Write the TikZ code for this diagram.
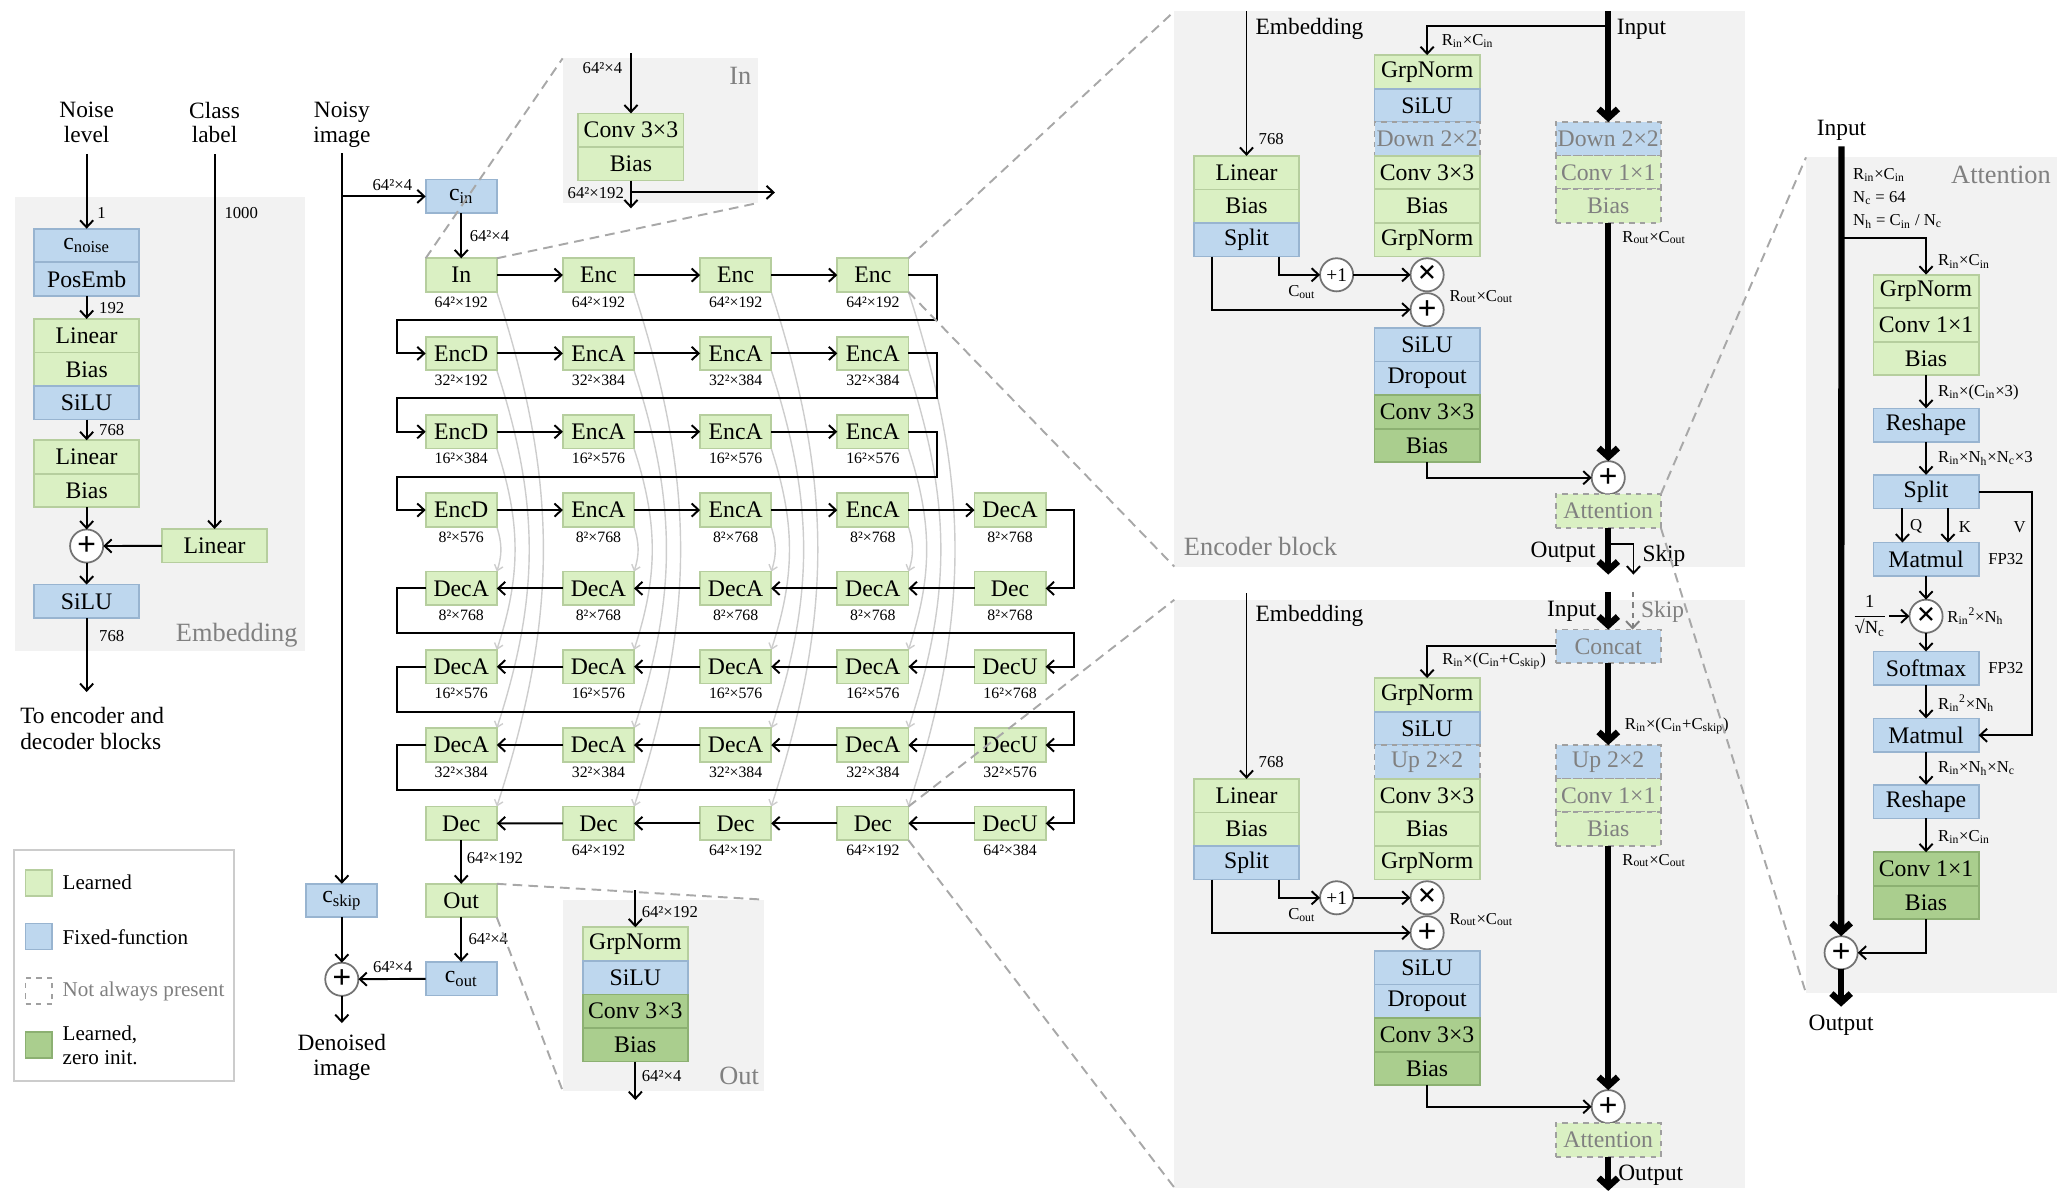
\documentclass[tikz,border=0pt]{standalone}
\usepackage{amsmath}
\usepackage{fontspec}
\setmainfont{Liberation Serif}
\usetikzlibrary{positioning,arrows.meta}

\definecolor{learned}{RGB}{218,240,195}
\definecolor{learnedline}{RGB}{182,206,158}
\definecolor{fixed}{RGB}{190,215,238}
\definecolor{fixedline}{RGB}{152,180,208}
\definecolor{zeroinit}{RGB}{170,206,142}
\definecolor{zeroline}{RGB}{140,176,114}
\definecolor{panel}{RGB}{242,242,242}
\definecolor{titlegray}{RGB}{128,128,128}
\definecolor{arcgray}{RGB}{205,205,205}
\definecolor{zoomgray}{RGB}{168,168,168}

\pgfdeclarelayer{back}
\pgfsetlayers{back,main}

\newcommand{\tsub}[1]{\textsubscript{#1}}
\newcommand{\boxfont}{\fontsize{13.5}{15}\selectfont}
\newcommand{\lblfont}{\fontsize{13.3}{14.1}\selectfont}
\newcommand{\dimfont}{\fontsize{9.5}{13.2}\selectfont}
\newcommand{\plussign}{\textbf{+}}
\newcommand{\timessign}{\textbf{×}}

\tikzset{
  blk/.style={draw, line width=1pt, minimum width=2.104cm, minimum height=0.671cm,
    inner sep=0pt, outer sep=0pt, font=\boxfont},
  lrn/.style={blk, fill=learned, draw=learnedline},
  fix/.style={blk, fill=fixed, draw=fixedline},
  zro/.style={blk, fill=zeroinit, draw=zeroline},
  opt/.style={dashed, draw=titlegray!75, text=titlegray},
  cell/.style={lrn, minimum width=1.422cm},
  swatch/.style={minimum width=0.534cm, minimum height=0.52cm},
  opnode/.style={circle, draw=black!55, fill=white, line width=1pt, minimum size=0.663cm,
    inner sep=0pt, outer sep=0pt, font=\fontsize{19}{19}\selectfont},
  dimlbl/.style={font=\dimfont, inner sep=1pt},
  cellsize/.style={font=\fontsize{9}{10}\selectfont, inner sep=0pt},
  txt/.style={font=\lblfont, align=center, inner sep=0pt},
  legtxt/.style={font=\fontsize{12}{13.9}\selectfont, align=left, anchor=west, inner sep=0pt},
  paneltitle/.style={font=\fontsize{15}{15}\selectfont, text=titlegray, inner sep=0pt},
  wire/.style={line width=1.1pt},
  arr/.style={wire, -{Straight Barb[length=4pt,width=7.5pt]}},
  fat arr/.style={line width=3.6pt, -{Straight Barb[length=5pt,width=11pt]}},
  skiparc/.style={draw=arcgray, line width=0.8pt, -{Straight Barb[length=3pt,width=5pt]}},
  zoomline/.style={draw=zoomgray, line width=1.1pt, dash pattern=on 5.5pt off 3.5pt},
}

\begin{document}
\begin{tikzpicture}[x=0.026538cm,y=-0.026538cm]
\useasboundingbox (0,0) rectangle (1560,902.8);

% grey panels
\coordinate (embNW) at (11.3,148.2);  \coordinate (embSE) at (230,490.6);
\coordinate (inNW) at (424,44);       \coordinate (inSE) at (571,153);
\coordinate (outNW) at (424,678);     \coordinate (outSE) at (576,822);
\coordinate (encNW) at (885,8.5);     \coordinate (encSE) at (1315,427);
\coordinate (decNW) at (885,452);     \coordinate (decSE) at (1315,895);
\coordinate (attNW) at (1361,118.6);  \coordinate (attSE) at (1550.4,748.4);
\foreach \p in {emb,in,out,enc,dec,att}
  \fill[panel] (\p NW) rectangle (\p SE);

% embedding
\node[txt] (noise) at (65.3,92.4) {Noise\\level};
\node[txt] (class) at (161.7,92.4) {Class\\label};
\node[fix] (cnoise) at (65.3,185) {c\tsub{noise}};
\node[fix,below=0pt of cnoise] (posemb) {PosEmb};
\node[lrn] (lin1) at (65.3,253) {Linear};
\node[lrn,below=0pt of lin1] (bias1) {Bias};
\node[fix,below=0pt of bias1] (silu1) {SiLU};
\node[lrn] (lin2) at (65.3,344.4) {Linear};
\node[lrn,below=0pt of lin2] (bias2) {Bias};
\node[opnode] (add1) at (65.3,411.5) {\plussign};
\node[lrn] (lincls) at (161.7,411.3) {Linear};
\node[fix] (silu2) at (65.3,453.2) {SiLU};
\coordinate (embout) at (65.3,521.5);
\node[txt,align=left,anchor=west,font=\fontsize{13.3}{14.7}\selectfont] (toblocks) at (15,549.3) {To encoder and\\decoder blocks};
\node[paneltitle] (embtitle) at (178.4,479) {Embedding};

\draw[arr] ([yshift=-6pt]noise.south) -- (cnoise);
\draw[arr] ([yshift=-6pt]class.south) -- (lincls);
\draw[arr] (posemb) -- (lin1);
\draw[arr] (silu1) -- (lin2);
\draw[arr] (bias2) -- (add1);
\draw[arr] (lincls) -- (add1);
\draw[arr] (add1) -- (silu2);
\draw[arr] (silu2) -- (embout);
\node[dimlbl] (d1) at (76.6,160.3) {1};
\node[dimlbl] (d1000) at (181.8,160.3) {1000};
\node[dimlbl] (d192) at (84.2,231.8) {192};
\node[dimlbl] (d768a) at (84.2,324) {768};
\node[dimlbl] (d768b) at (84.2,479) {768};

% legend
\draw[draw=black!20,line width=1pt,fill=white] (10.6,640.5) rectangle (176.5,814.8);
\node[lrn,swatch] (swl) at (29.35,665.4) {};
\node[fix,swatch] (swf) at (29.35,705.7) {};
\node[blk,swatch,fill=white,opt] (swo) at (29.35,746.8) {};
\node[zro,swatch] (swz) at (29.35,787.5) {};
\node[legtxt] (tl) at (47,664.7) {Learned};
\node[legtxt] (tf) at (47,706) {Fixed-function};
\node[legtxt,text=titlegray] (to) at (47,747) {Not always present};
\node[legtxt] (tz) at (47,787.7) {Learned,\\zero init.};

% network
\node[txt] (noisy) at (257.6,94.2) {Noisy\\image};
\node[fix,minimum width=1.422cm] (cin) at (347.6,148) {c\tsub{in}};
\node[fix,minimum width=1.422cm] (cskip) at (257.6,678.7) {c\tsub{skip}};

\foreach \r/\c/\bname/\bsize in {
    1/1/In/64²×192, 1/2/Enc/64²×192, 1/3/Enc/64²×192, 1/4/Enc/64²×192,
    2/1/EncD/32²×192, 2/2/EncA/32²×384, 2/3/EncA/32²×384, 2/4/EncA/32²×384,
    3/1/EncD/16²×384, 3/2/EncA/16²×576, 3/3/EncA/16²×576, 3/4/EncA/16²×576,
    4/1/EncD/8²×576, 4/2/EncA/8²×768, 4/3/EncA/8²×768, 4/4/EncA/8²×768, 4/5/DecA/8²×768,
    5/1/DecA/8²×768, 5/2/DecA/8²×768, 5/3/DecA/8²×768, 5/4/DecA/8²×768, 5/5/Dec/8²×768,
    6/1/DecA/16²×576, 6/2/DecA/16²×576, 6/3/DecA/16²×576, 6/4/DecA/16²×576, 6/5/DecU/16²×768,
    7/1/DecA/32²×384, 7/2/DecA/32²×384, 7/3/DecA/32²×384, 7/4/DecA/32²×384, 7/5/DecU/32²×576,
    8/2/Dec/64²×192, 8/3/Dec/64²×192, 8/4/Dec/64²×192, 8/5/DecU/64²×384}{
  \node[cell] (b\r\c) at ({347.6+103.4*(\c-1)},{207.3+59.03*(\r-1)}) {\bname};
  \node[cellsize] (s\r\c) at ({347.6+103.4*(\c-1)},{227.6+59.03*(\r-1)}) {\bsize};
}
\node[cell] (b81) at (347.6,620.5) {Dec};
\node[cell] (outb) at (347.6,678.7) {Out};
\node[fix,minimum width=1.422cm] (cout) at (347.6,737.5) {c\tsub{out}};
\node[opnode] (add2) at (257.6,738) {\plussign};
\coordinate (denoise) at (257.6,771);
\node[txt] (denoised) at (257.6,797) {Denoised\\image};

% skip connections
\begin{pgfonlayer}{back}
\foreach \c in {1,...,4}
  \foreach \r/\dr in {1/8,2/7,3/6,4/5}
    \draw[skiparc] (b\r\c.south east) to[bend left=18] (b\dr\c.north east);
\end{pgfonlayer}

\foreach \r in {1,...,4}
  \foreach \c/\nx in {1/2,2/3,3/4}
    \draw[arr] (b\r\c) -- (b\r\nx);
\draw[arr] (b44) -- (b45);
\foreach \r in {5,...,8}
  \foreach \c/\nx in {1/2,2/3,3/4,4/5}
    \draw[arr] (b\r\nx) -- (b\r\c);
\foreach \r/\nx in {1/2,2/3,3/4}
  \draw[arr] (b\r4.east) -- ++(21.8,0) -- ++(0,33.8) -- ++(-407.2,0) |- (b\nx1.west);
\draw[arr] (b45.east) -- ++(21.4,0) |- (b55.east);
\foreach \r/\nx in {5/6,6/7,7/8}
  \draw[arr] (b\r1.west) -- ++(-21.6,0) -- ++(0,33.8) -- ++(510.2,0) |- (b\nx5.east);

\draw[arr] ([yshift=-3pt]noisy.south) -- (cskip);
\draw[arr] (noisy.south |- cin) -- (cin);
\draw[arr] (cin) -- (b11);
\draw[arr] (b81) -- (outb);
\draw[arr] (outb) -- (cout);
\draw[arr] (cout) -- (add2);
\draw[arr] (cskip) -- (add2);
\draw[arr] (add2) -- (denoise);
\node[dimlbl] (lcin) at (295.7,139.4) {64²×4};
\node[dimlbl] (lin) at (368.9,177.6) {64²×4};
\node[dimlbl] (lout) at (373,646.7) {64²×192};
\node[dimlbl] (lcout) at (368,708) {64²×4};
\node[dimlbl] (lsum) at (296,729) {64²×4};

% In layer
\node[lrn] (inconv) at (475.5,98.1) {Conv 3×3};
\node[lrn,below=0pt of inconv] (inbias) {Bias};
\coordinate (intop) at (475.5,40);
\coordinate (inbot) at (475.5,157);
\coordinate (inright) at (584,145);
\draw[arr] (intop) -- (inconv);
\draw[arr] (inbias) -- (inbot);
\draw[arr] (inbias.south |- inright) -- (inright);
\node[dimlbl] (inl1) at (454,51) {64²×4};
\node[dimlbl] (inl2) at (449,145.5) {64²×192};
\node[paneltitle] (intitle) at (558,57) {In};

% Out layer
\node[lrn] (ognorm) at (478.8,711.5) {GrpNorm};
\node[fix,below=0pt of ognorm] (osilu) {SiLU};
\node[zro,below=0pt of osilu] (oconv) {Conv 3×3};
\node[zro,below=0pt of oconv] (obias) {Bias};
\coordinate (otop) at (478.8,671);
\coordinate (obot) at (478.8,829);
\draw[arr] (otop) -- (ognorm);
\draw[arr] (obias) -- (obot);
\node[dimlbl] (outl1) at (504.8,687) {64²×192};
\node[dimlbl] (outl2) at (498.6,811) {64²×4};
\node[paneltitle] (outtitle) at (557,811) {Out};

% encoder block
\coordinate (eembtop) at (939.4,8.5);
\coordinate (einput) at (1212,8.5);
\node[txt,anchor=west] (eemb) at (946,22) {Embedding};
\node[txt] (einlbl) at (1237,22) {Input};
\node[lrn] (elin) at (939.4,130.1) {Linear};
\node[lrn,below=0pt of elin] (ebias) {Bias};
\node[fix,below=0pt of ebias] (esplit) {Split};
\node[lrn] (egn1) at (1075.5,54.2) {GrpNorm};
\node[fix,below=0pt of egn1] (esilu1) {SiLU};
\node[fix,opt,below=0pt of esilu1] (edown1) {Down 2×2};
\node[lrn,below=0pt of edown1] (econv1) {Conv 3×3};
\node[lrn,below=0pt of econv1] (ebias1) {Bias};
\node[lrn,below=0pt of ebias1] (egn2) {GrpNorm};
\node[opnode,below=1pt of egn2] (emul) {\timessign};
\node[opnode,below=1pt of emul] (eadd1) {\plussign};
\node[fix,below=1pt of eadd1] (esilu2) {SiLU};
\node[fix,below=0pt of esilu2] (edrop) {Dropout};
\node[zro,below=0pt of edrop] (econv2) {Conv 3×3};
\node[zro,below=0pt of econv2] (ebias2) {Bias};
\node[opnode,font=\fontsize{11}{11}\selectfont] (eone) at (1007.3,0 |- emul) {+1};
\node[fix,opt] (edown2) at (1212,104.6) {Down 2×2};
\node[lrn,opt,below=0pt of edown2] (econv3) {Conv 1×1};
\node[lrn,opt,below=0pt of econv3] (ebias3) {Bias};
\node[opnode] (eadd2) at (1212,360) {\plussign};
\node[lrn,opt,below=0pt of eadd2] (eattn) {Attention};
\coordinate (eout) at (1212,433);
\coordinate (eskip) at (1231,433);

\draw[arr] (eembtop) -- (elin);
\draw[fat arr] (einput) -- (edown2);
\draw[arr] ([yshift=-0.295cm]einput) -| (egn1);
\draw[arr] ([xshift=0.655cm]esplit.south) |- (eone);
\draw[arr] ([xshift=-0.685cm]esplit.south) |- (eadd1);
\draw[arr] (eone) -- (emul);
\draw[arr] (ebias2) |- (eadd2);
\draw[fat arr] (ebias3) -- (eadd2);
\draw[fat arr] (eattn) -- (eout);
\draw[arr] ([yshift=-0.324cm]eattn.south) -| (eskip);
\node[dimlbl] (el768) at (958,105) {768};
\node[dimlbl] (elin1) at (1106,31) {R\tsub{in}×C\tsub{in}};
\node[dimlbl] (elcout) at (981,220) {C\tsub{out}};
\node[dimlbl] (elmid) at (1116.3,223.5) {R\tsub{out}×C\tsub{out}};
\node[dimlbl] (elres) at (1246.5,179) {R\tsub{out}×C\tsub{out}};
\node[txt] (eoutlbl) at (1178,416) {Output};
\node[txt] (eskiplbl) at (1254,419) {Skip};
\node[paneltitle] (enctitle) at (949.9,412) {Encoder block};

% decoder block
\coordinate (dembtop) at (939.4,447);
\coordinate (dinput) at (1212,446);
\coordinate (dskipin) at (1230.4,446);
\node[txt,anchor=west] (demb) at (946,464) {Embedding};
\node[txt] (dinlbl) at (1184.5,461) {Input};
\node[txt,text=titlegray] (dskiplbl) at (1253,461) {Skip};
\node[fix,opt] (dcat) at (1212,487.1) {Concat};
\node[lrn] (dlin) at (939.4,599.6) {Linear};
\node[lrn,below=0pt of dlin] (dbias) {Bias};
\node[fix,below=0pt of dbias] (dsplit) {Split};
\node[lrn] (dgn1) at (1075.5,523.7) {GrpNorm};
\node[fix,below=0pt of dgn1] (dsilu1) {SiLU};
\node[fix,opt,below=0pt of dsilu1] (dup1) {Up 2×2};
\node[lrn,below=0pt of dup1] (dconv1) {Conv 3×3};
\node[lrn,below=0pt of dconv1] (dbias1) {Bias};
\node[lrn,below=0pt of dbias1] (dgn2) {GrpNorm};
\node[opnode,below=1pt of dgn2] (dmul) {\timessign};
\node[opnode,below=1pt of dmul] (dadd1) {\plussign};
\node[fix,below=1pt of dadd1] (dsilu2) {SiLU};
\node[fix,below=0pt of dsilu2] (ddrop) {Dropout};
\node[zro,below=0pt of ddrop] (dconv2) {Conv 3×3};
\node[zro,below=0pt of dconv2] (dbias2) {Bias};
\node[opnode,font=\fontsize{11}{11}\selectfont] (done) at (1007.3,0 |- dmul) {+1};
\node[fix,opt] (dup2) at (1212,574.1) {Up 2×2};
\node[lrn,opt,below=0pt of dup2] (dconv3) {Conv 1×1};
\node[lrn,opt,below=0pt of dconv3] (dbias3) {Bias};
\node[opnode] (dadd2) at (1212,834) {\plussign};
\node[lrn,opt,below=0pt of dadd2] (dattn) {Attention};
\coordinate (dout) at (1212,897.5);

\draw[arr] (dembtop) -- (dlin);
\draw[fat arr] (dinput) -- (dcat);
\draw[arr,dashed,titlegray] (dskipin) -- (dskipin |- dcat.north);
\draw[arr] (dcat.west) -| (dgn1);
\draw[fat arr] (dcat) -- (dup2);
\draw[arr] ([xshift=0.655cm]dsplit.south) |- (done);
\draw[arr] ([xshift=-0.685cm]dsplit.south) |- (dadd1);
\draw[arr] (done) -- (dmul);
\draw[arr] (dbias2) |- (dadd2);
\draw[fat arr] (dbias3) -- (dadd2);
\draw[fat arr] (dattn) -- (dout);
\node[dimlbl] (dl768) at (958,574.5) {768};
\node[dimlbl] (dlcat) at (1126,498) {R\tsub{in}×(C\tsub{in}+C\tsub{skip})};
\node[dimlbl,anchor=west] (dlres1) at (1223,547) {R\tsub{in}×(C\tsub{in}+C\tsub{skip})};
\node[dimlbl] (dlcout) at (981,689.5) {C\tsub{out}};
\node[dimlbl] (dlmid) at (1116.3,693) {R\tsub{out}×C\tsub{out}};
\node[dimlbl] (dlres2) at (1246.5,648.5) {R\tsub{out}×C\tsub{out}};
\node[txt] (doutlbl) at (1244,885.6) {Output};

% attention
\node[txt] (ainlbl) at (1387.8,98.4) {Input};
\node[paneltitle] (atttitle) at (1508,132) {Attention};
\node[dimlbl,align=left,anchor=west] (ahead) at (1395,149.5) {R\tsub{in}×C\tsub{in}\\N\tsub{c} = 64\\N\tsub{h} = C\tsub{in} / N\tsub{c}};
\node[lrn] (agn) at (1451.5,219.6) {GrpNorm};
\node[lrn,below=0pt of agn] (aconv1) {Conv 1×1};
\node[lrn,below=0pt of aconv1] (abias1) {Bias};
\node[fix] (ares1) at (1451.5,320.4) {Reshape};
\node[fix] (asplit) at (1451.5,370.5) {Split};
\node[fix] (amm1) at (1451.5,421.5) {Matmul};
\node[opnode] (amul) at (1451.5,464.4) {\timessign};
\node[fix] (asoft) at (1451.5,503.6) {Softmax};
\node[fix] (amm2) at (1451.5,554.1) {Matmul};
\node[fix] (ares2) at (1451.5,604.1) {Reshape};
\node[zro] (aconv2) at (1451.5,654.9) {Conv 1×1};
\node[zro,below=0pt of aconv2] (abias2) {Bias};
\node[opnode] (aadd) at (1387.5,718) {\plussign};
\coordinate (aout) at (1387.5,758.6);
\node[txt] (aoutlbl) at (1387.5,772.4) {Output};
\node[dimlbl,font=\fontsize{10.5}{12}\selectfont] (ascale) at (1409,464.4) {$\dfrac{\text{1}}{\text{√N\tsub{c}}}$};

\draw[fat arr] ([yshift=-3pt]ainlbl.south) -- (aadd);
\draw[fat arr] (aadd) -- (aout);
\draw[arr] ([yshift=-1.937cm]ainlbl.south) -| (agn);
\draw[arr] (abias1) -- (ares1);
\draw[arr] (ares1) -- (asplit);
\draw[arr] ([xshift=-0.472cm]asplit.south) -- ([xshift=-0.472cm]amm1.north);
\draw[arr] ([xshift=0.438cm]asplit.south) -- ([xshift=0.438cm]amm1.north);
\draw[arr] (asplit.east) -- ++(39.9,0) |- (amm2.east);
\draw[arr] (amm1) -- (amul);
\draw[arr] (ascale) -- (amul);
\draw[arr] (amul) -- (asoft);
\draw[arr] (asoft) -- (amm2);
\draw[arr] (amm2) -- (ares2);
\draw[arr] (ares2) -- (aconv2);
\draw[arr] (abias2) |- (aadd);
\node[dimlbl,anchor=west] (al1) at (1459,197) {R\tsub{in}×C\tsub{in}};
\node[dimlbl,anchor=west] (al2) at (1459,295.5) {R\tsub{in}×(C\tsub{in}×3)};
\node[dimlbl,anchor=west] (al3) at (1459,345.5) {R\tsub{in}×N\tsub{h}×N\tsub{c}×3};
\node[dimlbl] (aq) at (1444,397) {Q};
\node[dimlbl] (ak) at (1480.7,397) {K};
\node[dimlbl] (av) at (1522,397) {V};
\node[dimlbl] (afp1) at (1511.7,421.5) {FP32};
\node[dimlbl,anchor=west] (al4) at (1466,464.4) {R\tsub{in}\textsuperscript{2}×N\tsub{h}};
\node[dimlbl] (afp2) at (1511.7,503.6) {FP32};
\node[dimlbl,anchor=west] (al5) at (1459,530) {R\tsub{in}\textsuperscript{2}×N\tsub{h}};
\node[dimlbl,anchor=west] (al6) at (1459,579) {R\tsub{in}×N\tsub{h}×N\tsub{c}};
\node[dimlbl,anchor=west] (al7) at (1459,630.5) {R\tsub{in}×C\tsub{in}};

% zoom guides
\draw[zoomline] (b11.north west) -- (inNW);
\draw[zoomline] (b11.north east) -- (inSE);
\draw[zoomline] (outb.north east) -- (outSE |- outNW);
\draw[zoomline] (outb.south east) -- (outNW |- outSE);
\draw[zoomline] (b14.north east) -- (encNW);
\draw[zoomline] (b14.south east) -- (encNW |- encSE);
\draw[zoomline] (b84.north east) -- (decNW);
\draw[zoomline] (b84.south east) -- (decNW |- decSE);
\draw[zoomline] (eattn.north east) -- (attNW);
\draw[zoomline] (eattn.south east) -- (attNW |- attSE);
\end{tikzpicture}
\end{document}
